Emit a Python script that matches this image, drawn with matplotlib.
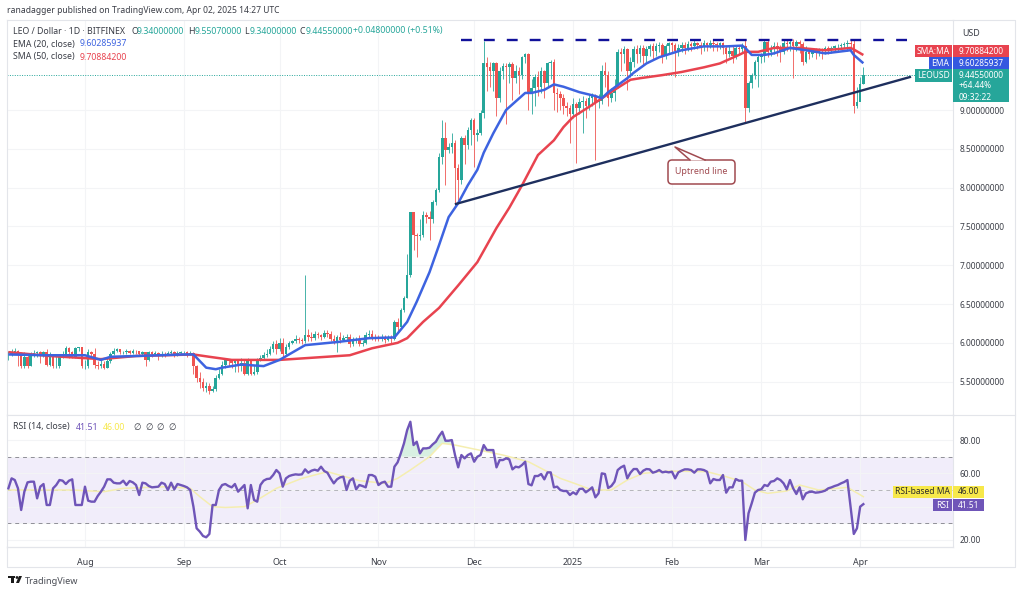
# -*- coding: utf-8 -*-

import matplotlib
matplotlib.use("Agg")
import matplotlib.pyplot as plt
from matplotlib.patches import Rectangle, FancyBboxPatch, Polygon, Circle
import numpy as np

plt.rcParams["font.family"] = ["Noto Sans", "DejaVu Sans"]

# daily closes, Jul 8 2024 .. Apr 2 2025
close_jul = [5.85,5.88,5.90,5.86,5.70,5.82,5.70,5.84,5.87,5.88,5.84,5.88,5.72,5.85,5.70,5.70,5.82,5.84,5.93,5.88,5.82,5.93,5.94,5.70]
close_aug = [5.70,5.88,5.86,5.72,5.70,5.73,5.68,5.76,5.85,5.90,5.92,5.88,5.88,5.90,5.87,5.90,5.89,5.86,5.88,5.78,5.88,5.86,5.87,5.84,5.86,5.85,5.87,5.88,5.85,5.87,5.88]
close_sep = [5.88,5.86,5.87,5.70,5.55,5.50,5.42,5.45,5.38,5.40,5.55,5.60,5.72,5.78,5.76,5.74,5.76,5.70,5.74,5.60,5.76,5.60,5.62,5.78,5.80,5.84,5.85,5.92,5.98,5.92]
close_oct = [6.00,5.85,5.95,6.00,6.02,6.05,6.04,6.02,6.10,6.08,6.06,6.12,6.10,6.08,6.13,6.12,6.05,6.02,6.08,6.04,6.06,6.08,5.98,6.02,6.04,5.98,6.00,6.10,6.12,6.08,6.06]
close_nov = [6.05,6.08,6.04,6.06,6.05,6.27,6.20,6.42,6.58,6.87,7.69,7.39,7.38,7.39,7.65,7.62,7.60,7.81,7.97,8.39,8.64,8.48,8.52,8.58,8.25,8.10,8.64,8.55,8.74,8.87]
close_dec = [8.68,8.70,8.96,9.60,9.55,9.50,9.60,9.15,9.50,9.57,9.55,9.59,9.41,9.50,9.45,9.68,9.72,9.23,9.28,9.42,9.30,9.50,9.35,9.60,9.62,9.22,9.20,9.15,9.05,9.02,8.95]
close_jan = [9.08,9.02,9.10,9.12,9.05,9.15,9.18,9.10,9.12,9.50,9.45,9.15,9.22,9.30,9.75,9.72,9.78,9.50,9.62,9.78,9.72,9.80,9.70,9.78,9.82,9.76,9.82,9.84,9.70,9.82,9.86]
close_feb = [9.84,9.76,9.80,9.84,9.80,9.85,9.83,9.86,9.84,9.82,9.86,9.84,9.87,9.85,9.84,9.86,9.80,9.72,9.76,9.70,9.80,9.78,9.82,9.02,9.35,9.45,9.62,9.68]
close_mar = [9.70,9.88,9.75,9.80,9.82,9.78,9.75,9.86,9.85,9.88,9.82,9.88,9.85,9.62,9.75,9.72,9.78,9.74,9.78,9.76,9.80,9.78,9.80,9.82,9.83,9.84,9.85,9.86,9.85,9.05,9.10]
close_apr = [9.34,9.4455]

high_jul = [5.90,5.92,5.93,5.91,5.88,5.88,5.85,5.88,5.91,5.90,5.90,5.90,5.92,5.88,5.86,5.84,5.86,5.90,5.96,5.94,5.90,5.94,5.95,5.95]
high_aug = [5.78,5.92,5.90,5.93,5.76,5.78,5.76,5.80,5.88,5.93,5.93,5.92,5.90,5.92,5.91,5.92,5.91,5.90,5.90,5.88,5.90,5.89,5.90,5.88,5.89,5.88,5.90,5.91,5.90,5.90,5.90]
high_sep = [5.90,5.90,5.90,5.88,5.72,5.62,5.55,5.50,5.48,5.44,5.58,5.66,5.76,5.80,5.79,5.78,5.79,5.78,5.80,5.78,5.80,5.78,5.72,5.80,5.84,5.88,5.92,5.96,6.02,6.04]
high_oct = [6.06,6.06,5.98,6.03,6.04,6.10,6.08,6.06,6.87,6.18,6.14,6.15,6.14,6.12,6.16,6.16,6.15,6.10,6.10,6.14,6.10,6.12,6.12,6.08,6.08,6.10,6.04,6.14,6.16,6.16,6.12]
high_nov = [6.10,6.12,6.10,6.10,6.10,6.30,6.32,6.45,6.60,7.15,7.69,7.69,7.42,7.60,7.70,7.68,7.70,7.84,8.00,8.44,8.87,8.85,8.58,8.70,8.62,8.30,8.66,8.68,8.78,8.90]
high_dec = [8.90,8.76,9.00,9.89,9.68,9.62,9.62,9.62,9.55,9.60,9.60,9.62,9.62,9.58,9.55,9.70,9.74,9.74,9.40,9.46,9.50,9.55,9.52,9.62,9.65,9.66,9.28,9.24,9.20,9.10,9.06]
high_jan = [9.15,9.10,9.15,9.18,9.15,9.20,9.22,9.20,9.20,9.58,9.62,9.50,9.28,9.40,9.78,9.80,9.82,9.80,9.68,9.82,9.84,9.84,9.84,9.82,9.85,9.86,9.86,9.88,9.86,9.85,9.88]
high_feb = [9.88,9.86,9.85,9.88,9.88,9.89,9.88,9.90,9.88,9.88,9.90,9.88,9.90,9.90,9.88,9.88,9.88,9.84,9.82,9.82,9.84,9.84,9.86,9.90,9.38,9.48,9.64,9.72]
high_mar = [9.74,9.90,9.92,9.84,9.88,9.88,9.84,9.90,9.92,9.92,9.92,9.90,9.90,9.88,9.82,9.80,9.80,9.80,9.80,9.80,9.82,9.82,9.83,9.84,9.85,9.86,9.88,9.90,9.90,9.90,9.30]
high_apr = [9.42,9.55]

low_jul = [5.78,5.83,5.85,5.70,5.68,5.68,5.68,5.70,5.82,5.82,5.74,5.82,5.70,5.70,5.68,5.68,5.68,5.80,5.82,5.80,5.80,5.80,5.90,5.68]
low_aug = [5.66,5.68,5.82,5.68,5.66,5.68,5.66,5.68,5.74,5.84,5.88,5.85,5.85,5.86,5.85,5.86,5.86,5.84,5.84,5.70,5.76,5.82,5.84,5.78,5.82,5.82,5.84,5.85,5.82,5.83,5.85]
low_sep = [5.84,5.82,5.84,5.60,5.50,5.42,5.38,5.36,5.34,5.36,5.38,5.54,5.58,5.68,5.70,5.68,5.62,5.62,5.64,5.58,5.58,5.58,5.58,5.60,5.76,5.78,5.82,5.84,5.88,5.86]
low_oct = [5.90,5.82,5.84,5.92,5.98,6.00,6.00,5.98,6.00,6.02,6.02,6.04,6.06,6.04,6.06,6.08,6.02,5.98,5.88,6.00,6.02,6.02,5.95,5.96,6.00,5.96,5.96,5.98,6.08,6.04,6.02]
low_nov = [6.02,6.03,6.00,6.02,6.00,6.04,6.15,6.20,6.40,6.58,6.85,7.20,7.10,7.32,7.36,7.55,7.32,7.55,7.78,7.95,8.30,8.03,8.45,8.45,7.80,7.81,8.05,8.30,8.50,8.55]
low_dec = [8.27,8.60,8.68,8.90,9.25,9.30,9.25,8.92,9.10,9.40,8.82,9.35,9.13,9.35,9.20,9.40,9.60,9.00,8.95,9.05,9.18,9.22,9.15,9.30,9.40,9.00,8.98,9.00,8.95,8.92,8.57]
low_jan = [8.90,8.32,8.95,8.70,8.90,9.00,9.05,8.35,9.02,9.08,9.30,9.05,9.10,9.12,9.28,9.50,9.60,9.26,9.42,9.55,9.60,9.62,9.58,9.62,9.70,9.65,9.70,9.75,9.60,9.66,9.72]
low_feb = [9.74,9.42,9.70,9.75,9.72,9.76,9.76,9.78,9.78,9.72,9.76,9.76,9.80,9.76,9.76,9.78,9.72,9.60,9.68,9.60,9.66,9.72,9.74,8.85,8.98,9.28,9.40,9.30]
low_mar = [9.60,9.62,9.68,9.70,9.72,9.70,9.62,9.72,9.76,9.76,9.41,9.76,9.74,9.58,9.60,9.66,9.68,9.66,9.70,9.66,9.72,9.72,9.74,9.76,9.76,9.78,9.80,9.76,9.78,8.96,9.02]
low_apr = [9.20,9.34]

ema_days = [0,12,24,29,32,55,58,62,65,67,73,80,85,93,103,113,121,125,128,132,135,138,141,144,147,149,152,156,162,164,168,171,174,179,184,186,188,191,194,196,200,204,211,218,225,230,231,233,237,240,245,250,256,264,265,268]
ema_vals = [5.85,5.84,5.84,5.78,5.82,5.85,5.85,5.68,5.66,5.68,5.72,5.70,5.78,5.97,6.01,6.06,6.07,6.27,6.53,6.91,7.26,7.62,7.80,8.03,8.23,8.45,8.70,9.00,9.22,9.22,9.26,9.33,9.30,9.23,9.18,9.15,9.23,9.32,9.41,9.48,9.60,9.68,9.77,9.82,9.82,9.83,9.80,9.71,9.71,9.73,9.80,9.77,9.73,9.77,9.71,9.60285937]

sma_days = [0,13,29,40,58,63,70,85,107,114,122,125,130,135,141,147,153,157,161,166,171,174,177,182,186,190,195,198,205,211,218,223,229,231,235,240,248,256,264,265,268]
sma_vals = [5.88,5.83,5.79,5.83,5.85,5.82,5.78,5.78,5.84,5.93,6.00,6.06,6.27,6.45,6.74,7.04,7.48,7.74,8.03,8.42,8.61,8.78,8.91,9.04,9.15,9.26,9.39,9.41,9.45,9.49,9.55,9.60,9.71,9.75,9.75,9.80,9.80,9.77,9.80,9.78,9.70884200]

rsi_vals = [51,57,56,51,38,49,54.6,55,55,45,52,53.6,41,41,51,53,56,55.6,53.6,55.6,56.4,41,41,41,52,43.6,43,43,46.4,49,52,56.4,56.4,54.4,54,54,55.6,53,55.4,54.6,
    53,47,54.4,54,52.4,51.6,51.8,52,54.4,53.6,50,54.4,50.4,53.6,53,52.4,51.6,50,40,27,25,22.4,21.6,23.6,41,41,50,53,53.6,52.4,
    51.6,53.6,49,51,53,39,53,44,43,53,55.6,56.6,56.8,59,62,60,52,57,58.4,59,59.4,59.2,59.4,62.4,60.4,61.6,62.2,61.6,64,61.4,
    60.4,57,54,56.4,57.6,58,50,55.6,57,50.4,53,52.4,51.6,59,59,58,53,54.4,55,52,52,64,66.6,72,78,86,91,77,79,72,75,75,
    75.4,77.4,79,82.4,85,79.6,79.6,80,71,63.6,71,69,71,72,67,70,71,77,74,74,74,63.6,68,68,69,68.4,62.4,64,63.6,65,67,53.6,52.8,58.4,
    58.4,59.6,56.4,60.6,60.6,51.6,52,50,49.4,49.4,47,48.6,47.4,50.6,50.8,48.6,50,51.6,45.6,48,60,59.6,51.2,52.4,55,62,63.6,64.6,57,60.4,
    62.6,62.6,59.6,61.6,62.6,62.4,60.4,61,62,60.6,61,60.6,61,57,60.6,61.6,62.4,62.4,62,60.4,62.4,62.4,62,61,54,56.6,56,56,59,48.4,
    51.6,51.6,56.6,55.6,55.6,20,36,42,48.4,50,50.4,53,52.4,55,55.4,57,56,54,50.4,56,51,47.6,51.6,44.4,48,48.8,49,48.4,48.6,49,49.6,51,
    51.6,52.4,53,54,54.8,56,40,23.6,27,40,41.51]

rsi_ma_days = [0,20,30,36,50,57,60,64,68,74,78,84,92,100,110,118,122,126,132,136,140,145,150,155,163,168,173,178,183,189,194,199,207,219,225,230,234,238,244,248,254,263,268]
rsi_ma_vals = [50,50,49,51,52,51,46,40,39.5,40,44,51,57,61,55.6,54,57,62,70,78,77,75,73,71,67,62,57,53.6,50,50,56,60,61.4,61,58,55,50,48,49.4,53,50,51.6,46]

month_days = [24,55,85,116,146,177,208,236,267]
month_labels = ["Aug","Sep","Oct","Nov","Dec","2025","Feb","Mar","Apr"]
price_ticks = [5.5,6.0,6.5,7.0,7.5,8.0,8.5,9.0]
rsi_ticks = [20,60,80]

resistance_days = [142,282.6]
resistance_vals = [9.90,9.90]
trend_days = [140.3,282.6]
trend_vals = [7.79,9.425]
last_price = 9.4455

close = np.array(close_jul+close_aug+close_sep+close_oct+close_nov+close_dec+close_jan+close_feb+close_mar+close_apr)
high = np.array(high_jul+high_aug+high_sep+high_oct+high_nov+high_dec+high_jan+high_feb+high_mar+high_apr)
low = np.array(low_jul+low_aug+low_sep+low_oct+low_nov+low_dec+low_jan+low_feb+low_mar+low_apr)
opens = np.concatenate([[5.85], close[:-1]])
days = np.arange(len(close))
rsi = np.array(rsi_vals)

UP = "#26a69a"
DOWN = "#ef5350"
BLUE = "#3d63e0"
RED = "#e8434f"
PURPLE = "#6f55b8"
YELLOW = "#f7e84a"
TEXT = "#3a3d46"
GRID = "#f3f4f6"
EDGE = "#e3e5ea"
W, H = 1024, 594

fig = plt.figure(figsize=(W/100, H/100), dpi=100, facecolor="white")


def pane(left, top, right, bottom):
    return fig.add_axes([left/W, 1-bottom/H, (right-left)/W, (bottom-top)/H])


ax = pane(7, 20, 953, 415)
ax_rsi = pane(7, 415, 953, 547)

ax.set_xlim(-0.44, 296.1)
ax_rsi.set_xlim(-0.44, 296.1)
ax.set_ylim(5.07, 10.16)
ax_rsi.set_ylim(15.77, 95.05)

for a in (ax, ax_rsi):
    a.set_xticks(month_days)
    a.grid(True, color=GRID, lw=0.8)
    a.set_axisbelow(True)
    a.yaxis.tick_right()
    a.tick_params(length=0, labelsize=6.0, labelcolor=TEXT, pad=4.5)
    for s in a.spines.values():
        s.set_color(EDGE)
        s.set_linewidth(0.8)

ax.tick_params(axis="x", labelbottom=False)
ax.set_yticks(price_ticks)
ax.set_yticklabels(["%.8f" % p for p in price_ticks])
ax_rsi.set_xticklabels(month_labels)
ax_rsi.tick_params(axis="x", pad=8, labelsize=6.4)
ax_rsi.set_yticks([20, 30, 40, 50, 60, 70, 80])
ax_rsi.set_yticklabels(["%.2f" % t if t in rsi_ticks else "" for t in [20, 30, 40, 50, 60, 70, 80]])

# candles
colors = np.where(close >= opens, UP, DOWN)
ax.vlines(days, low, high, colors=colors, lw=0.7, alpha=0.85, zorder=2)
ax.bar(days, np.abs(close-opens), bottom=np.minimum(close, opens), width=0.8, color=colors, lw=0, zorder=3)

ax.axhline(last_price, color=UP, lw=0.7, ls=(0, (1, 1.5)), zorder=1)
ax.plot(sma_days, sma_vals, color=RED, lw=1.8, zorder=4, solid_capstyle="butt")
ax.plot(ema_days, ema_vals, color=BLUE, lw=1.8, zorder=5, solid_capstyle="butt")
ax.plot(trend_days, trend_vals, color="#1e2f5e", lw=1.7, zorder=6)
ax.plot(resistance_days, resistance_vals, color="#11119a", lw=1.7, ls=(0, (4.6, 5.1)), zorder=6)

# rsi pane
ax_rsi.axhspan(30, 70, color="#f1edfa", lw=0, zorder=0)
ax_rsi.axhline(70, color="#8f8f98", lw=0.7, ls=(0, (4, 4)), zorder=1)
ax_rsi.axhline(50, color="#b5b5bb", lw=0.7, ls=(0, (4, 4)), zorder=1)
ax_rsi.axhline(30, color="#8f8f98", lw=0.7, ls=(0, (4, 4)), zorder=1)
ma_daily = np.interp(days, rsi_ma_days, rsi_ma_vals)
ax_rsi.fill_between(days, np.maximum(ma_daily, 70), rsi, where=rsi > np.maximum(ma_daily, 70),
                    color="#bfe6cf", alpha=0.6, lw=0, zorder=1, interpolate=True)
ax_rsi.plot(rsi_ma_days, rsi_ma_vals, color="#f5eeb0", lw=1.1, zorder=2)
ax_rsi.plot(days, rsi, color=PURPLE, lw=1.7, zorder=3)

# everything around the panes, in picture pixels
ov = fig.add_axes([0, 0, 1, 1], facecolor="none", zorder=10)
ov.set_xlim(0, W)
ov.set_ylim(H, 0)
ov.axis("off")

# outer frame of the chart
ov.plot([953, 1015, 1015, 7, 7], [20, 20, 567, 567, 547], color=EDGE, lw=0.8)
ov.plot([953, 1015], [415, 415], color=EDGE, lw=0.8)
ov.plot([7, 953], [547, 547], color=EDGE, lw=0.8)


def txt(x, y, s, color=TEXT, size=6.3, ha="left", **kw):
    ov.text(x, y, s, color=color, fontsize=size, ha=ha, va="center", **kw)


def tag(x0, x1, y0, y1, color):
    ov.add_patch(Rectangle((x0, y0), x1-x0, y1-y0, color=color, lw=0))


txt(7, 10.5, "ranadagger published on TradingView.com, Apr 02, 2025 14:27 UTC", size=6.15)

txt(13, 31, "LEO / Dollar · 1D · BITFINEX")
for x_l, lab, x_v, val in [(131, "O", 137, "9.34000000"), (188, "H", 195, "9.55070000"),
                           (244, "L", 250, "9.34000000"), (300, "C", 306, "9.44550000")]:
    txt(x_l, 31, lab)
    txt(x_v, 31, val, color=UP)
txt(353, 31, "+0.04800000 (+0.51%)", color=UP)
txt(13, 44, "EMA (20, close)")
txt(80, 44, "9.60285937", color=BLUE)
txt(13, 57, "SMA (50, close)")
txt(80, 57, "9.70884200", color=RED)

txt(962, 33, "USD", size=6.4)

tag(915, 952, 45, 57, RED)
tag(953, 1009, 45, 57, RED)
txt(933.5, 51, "SMA:MA", color="white", ha="center", size=6.1)
txt(959, 51, "9.70884200", color="white", size=6.0)

tag(929, 952, 57, 69, "#3558e0")
tag(953, 1009, 57, 69, "#3558e0")
txt(940.5, 63, "EMA", color="white", ha="center", size=6.1)
txt(959, 63, "9.60285937", color="white", size=6.0)

tag(915, 952, 69, 82, UP)
tag(953, 1009, 69, 102, UP)
txt(933.5, 75.5, "LEOUSD", color="white", ha="center", size=6.1)
txt(959, 75.5, "9.44550000", color="white", size=6.0)
txt(959, 86, "+64.44%", color="white", size=6.0)
txt(959, 97, "09:32:22", color="white", size=6.0)

# rsi legend and tags
txt(13, 427, "RSI (14, close)")
txt(76, 427, "41.51", color=PURPLE)
txt(103, 427, "46.00", color=YELLOW)
for x_s in [133, 145, 156, 168]:
    txt(x_s, 427, "∅", family="DejaVu Sans", size=6.2)

tag(893, 952, 486, 498, YELLOW)
tag(953, 984, 486, 498, YELLOW)
txt(922.5, 492, "RSI-based MA", color="#2a2a2a", ha="center", size=6.1)
txt(958, 492, "46.00", color="#2a2a2a", size=6.0)
tag(933, 952, 499, 511, PURPLE)
tag(953, 984, 499, 511, PURPLE)
txt(942.5, 505, "RSI", color="white", ha="center", size=6.1)
txt(958, 505, "41.51", color="white", size=6.0)

# callout on the trend line
LABEL = "#a04a50"
ov.add_patch(FancyBboxPatch((671, 163), 61, 18, boxstyle="round,pad=3,rounding_size=4",
                            fc="white", ec=LABEL, lw=1.1, zorder=5))
ov.add_patch(Polygon([(690, 160.5), (675, 147), (705, 160.5)], closed=True, fc="white", ec="none", zorder=6))
ov.plot([690, 675, 705], [160, 147, 160], color=LABEL, lw=1.1, zorder=7)
txt(701.5, 172, "Uptrend line", color=LABEL, ha="center", size=6.4, zorder=8)

# logo and footer
ov.add_patch(Rectangle((8, 576), 7, 2, color="#1a1a1a", lw=0))
ov.add_patch(Rectangle((11, 576), 3.2, 7, color="#1a1a1a", lw=0))
ov.add_patch(Circle((17, 577.5), 1.4, color="#1a1a1a", lw=0))
ov.add_patch(Polygon([(19, 576), (22, 576), (19, 583), (16, 583)], closed=True, color="#1a1a1a", lw=0))
txt(25, 581, "TradingView", size=6.6, color="#4a4d55")

fig.savefig("out.png", dpi=100)
